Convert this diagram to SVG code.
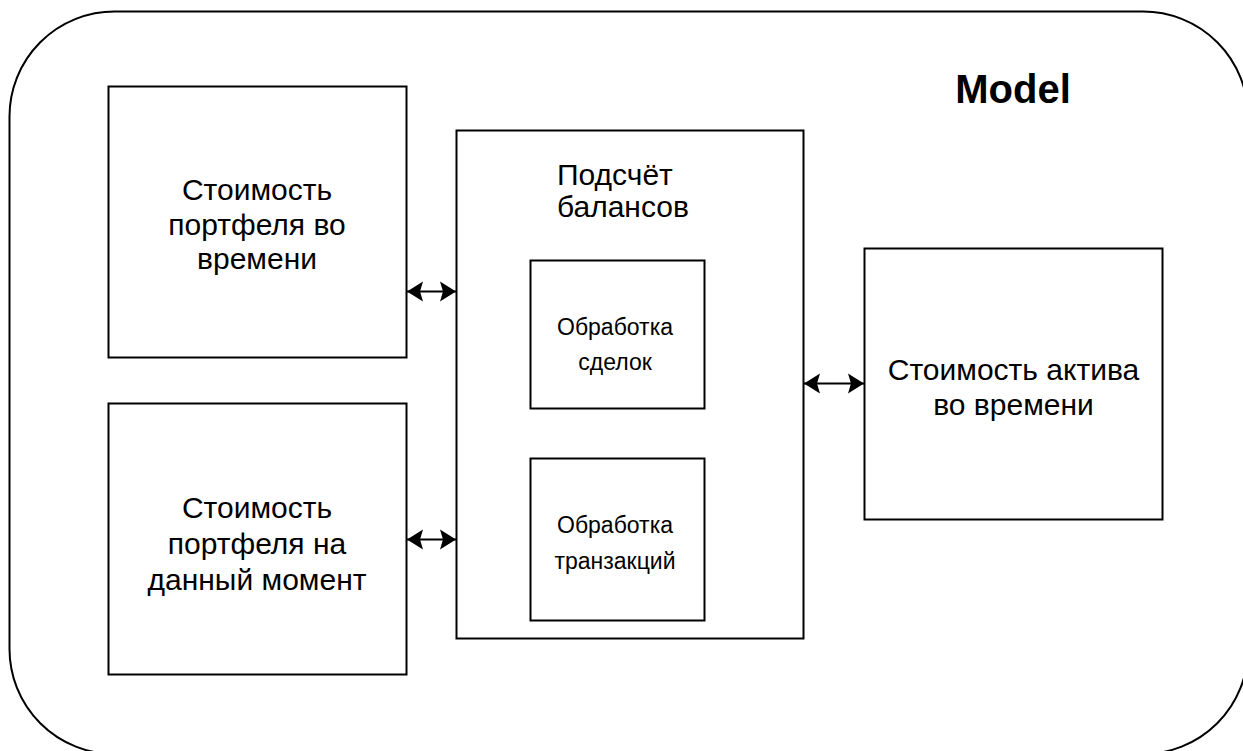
<svg xmlns="http://www.w3.org/2000/svg" width="1243" height="751" viewBox="0 0 1243 751">
  <style>
    .box { fill: #ffffff; stroke: #000000; stroke-width: 2; }
    .frame { fill: #ffffff; stroke: #000000; stroke-width: 2; }
    .lbl { font-family: "Liberation Sans", Arial, sans-serif; font-size: 30px; fill: #000000; text-anchor: middle; }
    .lbl-left { font-family: "Liberation Sans", Arial, sans-serif; font-size: 30px; fill: #000000; text-anchor: start; }
    .small { font-family: "Liberation Sans", Arial, sans-serif; font-size: 23px; fill: #000000; text-anchor: middle; }
    .title { font-family: "Liberation Sans", Arial, sans-serif; font-size: 40px; font-weight: bold; fill: #000000; text-anchor: middle; }
    .link { fill: none; stroke: #000000; stroke-width: 2; marker-start: url(#head); marker-end: url(#head); }
  </style>
  <defs>
    <marker id="head" viewBox="0 -11 17 22" refX="16" refY="0" markerWidth="17" markerHeight="22" markerUnits="userSpaceOnUse" orient="auto-start-reverse">
      <path d="M0,-10 L16,0 L0,10 L3,0 Z" fill="#000000"/>
    </marker>
  </defs>

  <rect width="1243" height="751" fill="#ffffff"/>

  <!-- outer model frame -->
  <g id="model">
    <rect class="frame" x="9.5" y="11.5" width="1238.5" height="742.5" rx="105" ry="105"/>
    <text class="title" x="1013" y="103">Model</text>
  </g>

  <g id="portfolio-over-time">
    <rect class="box" x="108.5" y="86.5" width="298" height="271"/>
    <text class="lbl" x="257" y="200">Стоимость</text>
    <text class="lbl" x="257" y="235">портфеля во</text>
    <text class="lbl" x="257" y="269">времени</text>
  </g>

  <g id="portfolio-now">
    <rect class="box" x="108.5" y="403.5" width="298" height="271"/>
    <text class="lbl" x="257" y="518">Стоимость</text>
    <text class="lbl" x="257" y="554">портфеля на</text>
    <text class="lbl" x="257" y="590">данный момент</text>
  </g>

  <g id="balances">
    <rect class="box" x="456.5" y="130.5" width="347" height="508"/>
    <text class="lbl-left" x="557" y="185">Подсчёт</text>
    <text class="lbl-left" x="557" y="217">балансов</text>
  </g>

  <g id="deals">
    <rect class="box" x="530.5" y="260.5" width="174" height="148"/>
    <text class="small" x="615" y="335">Обработка</text>
    <text class="small" x="615" y="370">сделок</text>
  </g>

  <g id="transactions">
    <rect class="box" x="530.5" y="458.5" width="174" height="162"/>
    <text class="small" x="615" y="533">Обработка</text>
    <text class="small" x="615" y="569">транзакций</text>
  </g>

  <g id="asset-over-time">
    <rect class="box" x="864.5" y="248.5" width="298" height="271"/>
    <text class="lbl" x="1013.5" y="380">Стоимость актива</text>
    <text class="lbl" x="1013.5" y="415">во времени</text>
  </g>

  <!-- connectors -->
  <g id="connectors">
    <line class="link" x1="407" y1="291.5" x2="456" y2="291.5"/>
    <line class="link" x1="407" y1="539.5" x2="456" y2="539.5"/>
    <line class="link" x1="804" y1="383.5" x2="864" y2="383.5"/>
  </g>
</svg>
